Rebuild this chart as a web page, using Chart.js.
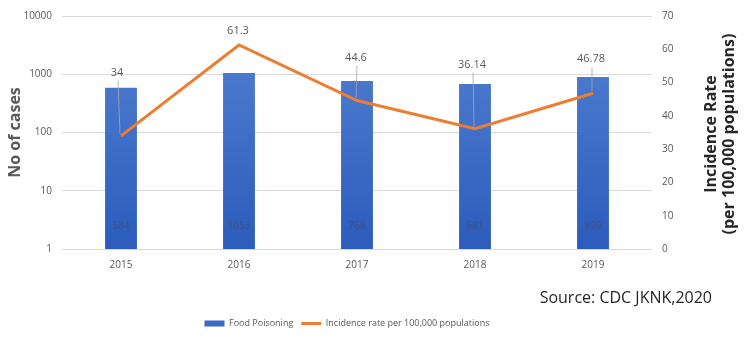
<!DOCTYPE html>
<html lang="en">
  <head>
    <meta charset="UTF-8" />
    <title>Food Poisoning</title>
    <script src="https://cdn.jsdelivr.net/npm/chart.js"></script>
    <style>
      html, body { margin: 0; padding: 0; background: #fff; }
      #wrap { width: 744px; height: 338px; }
    </style>
  </head>
  <body>
    <div id="wrap"><canvas id="myChart" width="744" height="338"></canvas></div>

    <script>
      const years = ["2015", "2016", "2017", "2018", "2019"];
      const cases = [584, 1053, 768, 681, 899];
      const incidence = [34, 61.3, 44.6, 36.14, 46.78];
      const rateLabels = ["34", "61.3", "44.6", "36.14", "46.78"];
      const logTicks = [1, 10, 100, 1000, 10000];
      const rightTitle = ["Incidence Rate", "(per 100,000 populations)"];

      const FONT = "'Open Sans', 'Liberation Sans', sans-serif";

      // label offsets for the line values (px from point)
      const labelOffsets = [[-4, -63], [-1, -14], [-1, -43], [-3, -64], [-2, -34]];

      const labelPlugin = {
        id: "labels",
        afterLayout(chart) {
          // legend sits a little left of centre in the original
          chart.legend.right -= 56;
        },
        afterDatasetsDraw(chart) {
          const ctx = chart.ctx;
          const area = chart.chartArea;
          ctx.save();
          // bar values inside bars
          const barMeta = chart.getDatasetMeta(0);
          ctx.font = "10px " + FONT;
          ctx.fillStyle = "#3f5482";
          ctx.textAlign = "center";
          ctx.textBaseline = "middle";
          barMeta.data.forEach((bar, i) => {
            ctx.fillText(String(cases[i]), bar.x, area.bottom - 23);
          });
          // line values with leader lines
          const lineMeta = chart.getDatasetMeta(1);
          ctx.font = "11px " + FONT;
          lineMeta.data.forEach((pt, i) => {
            const [dx, dy] = labelOffsets[i];
            const lx = pt.x + dx, ly = pt.y + dy;
            if (dy < -20) {
              ctx.strokeStyle = "#a6a6a6";
              ctx.lineWidth = 0.8;
              ctx.beginPath();
              ctx.moveTo(lx + 1, ly + 8);
              ctx.lineTo(pt.x - 1, pt.y - 2);
              ctx.stroke();
            }
            ctx.fillStyle = "#595959";
            ctx.fillText(rateLabels[i], lx, ly);
          });
          // right axis title, reading bottom to top
          ctx.save();
          ctx.translate(720, 134);
          ctx.rotate(-Math.PI / 2);
          ctx.font = "bold 16px " + FONT;
          ctx.fillStyle = "#262626";
          ctx.fillText(rightTitle[0], 0, -9);
          ctx.fillText(rightTitle[1], 0, 9);
          ctx.restore();
          // source note
          ctx.font = "16px " + FONT;
          ctx.fillStyle = "#262626";
          ctx.textAlign = "right";
          ctx.fillText("Source: CDC JKNK,2020", 712, 298);
          ctx.restore();
        },
      };

      const ctx = document.getElementById("myChart");
      new Chart(ctx, {
        type: "bar",
        data: {
          labels: years,
          datasets: [
            {
              type: "bar",
              label: "Food Poisoning",
              data: cases,
              yAxisID: "y",
              order: 2,
              barPercentage: 0.27,
              categoryPercentage: 1,
              backgroundColor: (c) => {
                const area = c.chart.chartArea;
                if (!area) return "#3a68c6";
                const g = c.chart.ctx.createLinearGradient(0, area.top, 0, area.bottom);
                g.addColorStop(0, "#5382d2");
                g.addColorStop(1, "#2c5cbc");
                return g;
              },
            },
            {
              type: "line",
              label: "Incidence rate per 100,000 populations",
              data: incidence,
              yAxisID: "y1",
              order: 1,
              borderColor: "#ed7d31",
              backgroundColor: "#ed7d31",
              borderWidth: 3,
              pointRadius: 0,
              tension: 0,
            },
          ],
        },
        options: {
          responsive: false,
          animation: false,
          layout: { padding: { top: 8, right: 0, left: 6, bottom: 0 } },
          plugins: {
            tooltip: { enabled: false },
            legend: {
              position: "bottom",
              align: "center",
              labels: {
                usePointStyle: true,
                pointStyleWidth: 20,
                boxHeight: 6,
                padding: 8,
                color: "#595959",
                font: { family: FONT, size: 9 },
                generateLabels: (chart) =>
                  chart.data.datasets.map((ds, i) => ({
                    text: ds.label,
                    fillStyle: i === 0 ? "#3a68c6" : "#ed7d31",
                    strokeStyle: i === 0 ? "#3a68c6" : "#ed7d31",
                    lineWidth: i === 0 ? 0 : 3,
                    pointStyle: i === 0 ? "rect" : "line",
                    datasetIndex: i,
                    fontColor: "#595959",
                  })),
              },
            },
          },
          scales: {
            x: {
              grid: { display: false, drawTicks: false },
              border: { display: false },
              ticks: { color: "#595959", font: { family: FONT, size: 10 }, padding: 10 },
              afterFit: (s) => { s.height = 62; },
            },
            y: {
              type: "logarithmic",
              position: "left",
              min: 1,
              max: 10000,
              afterBuildTicks: (s) => { s.ticks = logTicks.map((v) => ({ value: v })); },
              ticks: {
                color: "#595959",
                font: { family: FONT, size: 10 },
                padding: 10,
                callback: (v) => String(v),
              },
              grid: { color: "#d9d9d9", drawTicks: false },
              border: { display: false },
              title: {
                display: true,
                text: "No of cases",
                color: "#595959",
                font: { family: FONT, size: 16, weight: "bold" },
                padding: 0,
              },
              afterFit: (s) => { s.width = 56; },
            },
            y1: {
              position: "right",
              min: 0,
              max: 70,
              ticks: {
                stepSize: 10,
                color: "#595959",
                font: { family: FONT, size: 10 },
                padding: 10,
              },
              grid: { display: false, drawTicks: false },
              border: { display: false },
              afterFit: (s) => { s.width = 92; },
            },
          },
        },
        plugins: [labelPlugin],
      });
    </script>
  </body>
</html>
